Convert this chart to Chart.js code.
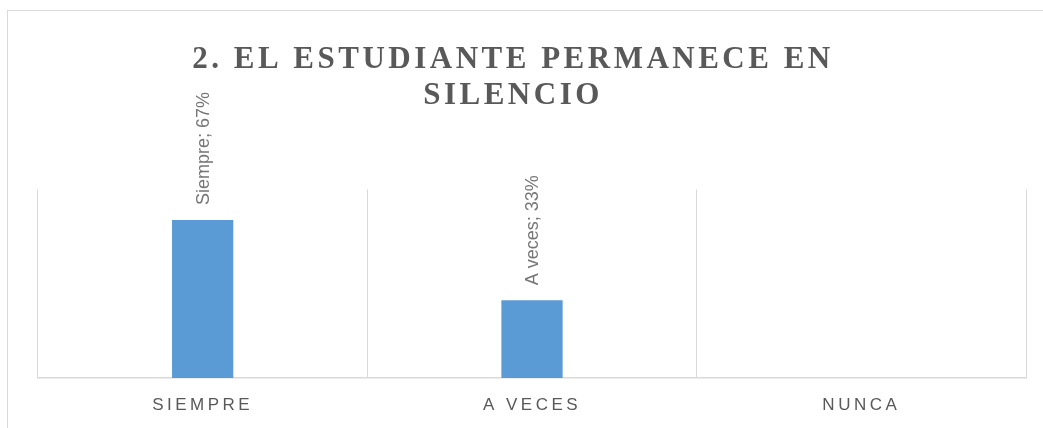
<!DOCTYPE html>
<html>
<head>
<meta charset="utf-8">
<script src="https://cdn.jsdelivr.net/npm/chart.js@4"></script>
<style>
  html, body { margin: 0; padding: 0; background: #fff; overflow: hidden; width: 1043px; height: 428px; }
  .frame {
    position: absolute; left: 7px; top: 10px; width: 1036px; height: 418px;
    border-top: 1px solid #d9d9d9; border-left: 1px solid #d9d9d9; box-sizing: border-box;
  }
  .wrap { position: absolute; left: 0; top: 0; width: 1043px; height: 428px; }
</style>
</head>
<body>
<div class="frame"></div>
<div class="wrap"><canvas id="chart"></canvas></div>
<script>
// data
const tickLabels = ['SIEMPRE', 'A VECES', 'NUNCA'];
const seriesNames = ['Siempre', 'A veces', 'Nunca'];
const values = [0.67, 0.33, 0];
const titleLines = ['2. EL ESTUDIANTE PERMANECE EN', 'SILENCIO'];

const spacing = {
  id: 'spacing',
  beforeDraw(chart) { chart.ctx.letterSpacing = '3.5px'; },
  afterDraw(chart) { chart.ctx.letterSpacing = '0px'; }
};

const barLabels = {
  id: 'barLabels',
  afterDatasetsDraw(chart) {
    const ctx = chart.ctx;
    const meta = chart.getDatasetMeta(0);
    meta.data.forEach((bar, i) => {
      if (!values[i]) return;
      ctx.save();
      ctx.letterSpacing = '0px';
      ctx.font = '18px "Liberation Sans", Arial, sans-serif';
      ctx.fillStyle = '#767676';
      ctx.textAlign = 'left';
      ctx.textBaseline = 'middle';
      ctx.translate(bar.x + 1, bar.y - 15);
      ctx.rotate(-Math.PI / 2);
      ctx.fillText(seriesNames[i] + '; ' + Math.round(values[i] * 100) + '%', 0, 0);
      ctx.restore();
    });
  }
};

new Chart(document.getElementById('chart'), {
  type: 'bar',
  data: {
    labels: tickLabels,
    datasets: [{
      label: 'Serie 1',
      data: values,
      backgroundColor: '#5b9bd5',
      barPercentage: 0.186,
      categoryPercentage: 1.0
    }]
  },
  options: {
    responsive: true,
    maintainAspectRatio: false,
    animation: false,
    layout: { padding: { left: 0, right: 17, top: 0, bottom: 0 } },
    plugins: {
      legend: { display: false },
      tooltip: { enabled: false },
      title: {
        display: true,
        text: titleLines,
        color: '#595959',
        font: { family: '"Liberation Serif", "Times New Roman", serif', size: 31, weight: 'bold', lineHeight: 1.16 },
        padding: { top: 42, bottom: 75.5 }
      }
    },
    scales: {
      x: {
        grid: { display: true, color: '#d9d9d9', lineWidth: 1, drawTicks: false, offset: true },
        border: { display: true, color: '#d9d9d9', width: 1.5 },
        ticks: {
          color: '#595959',
          padding: 16.8,
          font: { family: '"Liberation Sans", Arial, sans-serif', size: 17 }
        },
        afterFit(scale) { scale.height = 50; }
      },
      y: {
        min: 0,
        max: 0.8,
        grid: { display: false },
        border: { display: false },
        ticks: { display: false },
        afterFit(scale) { scale.width = 38; }
      }
    }
  },
  plugins: [spacing, barLabels]
});
</script>
</body>
</html>
